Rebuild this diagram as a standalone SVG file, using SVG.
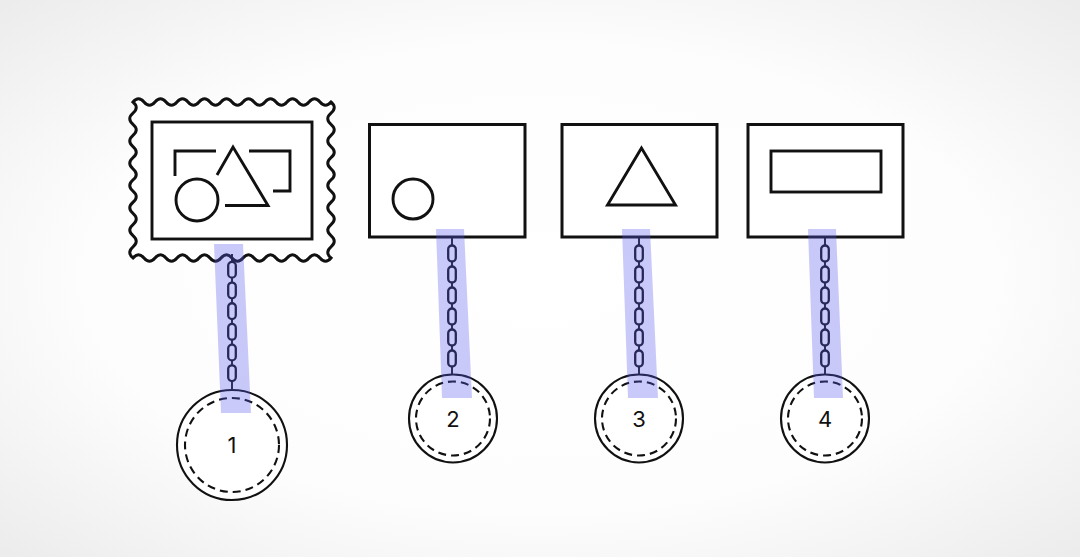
<svg xmlns="http://www.w3.org/2000/svg" width="1080" height="557" viewBox="0 0 1080 557">
<defs>
<radialGradient id="bg" cx="50%" cy="50%" r="70%">
<stop offset="0" stop-color="#ffffff"/>
<stop offset="0.6" stop-color="#fdfdfd"/>
<stop offset="1" stop-color="#ececec"/>
</radialGradient>
<g id="chain">
<line x1="0" y1="0" x2="0" y2="137" class="ln"/>
<rect x="-3.8" y="8" width="7.6" height="16" rx="3.8" class="lk"/>
<rect x="-3.8" y="29" width="7.6" height="16" rx="3.8" class="lk"/>
<rect x="-3.8" y="50" width="7.6" height="16" rx="3.8" class="lk"/>
<rect x="-3.8" y="71" width="7.6" height="16" rx="3.8" class="lk"/>
<rect x="-3.8" y="92" width="7.6" height="16" rx="3.8" class="lk"/>
<rect x="-3.8" y="113" width="7.6" height="16" rx="3.8" class="lk"/>
</g>
</defs>
<style>
.sh{fill:none;stroke:#111;stroke-width:2.9;stroke-linejoin:miter}
.box{fill:#fff;stroke:#111;stroke-width:3}
.ln{stroke:#111;stroke-width:1.9}
.lk{fill:#fff;stroke:#111;stroke-width:2.3}
.hl{fill:#5a5af0;fill-opacity:0.32}
.coin{fill:#fff;stroke:#111;stroke-width:2.1}
.dash{fill:none;stroke:#111;stroke-width:2.1;stroke-dasharray:8 5}
.num{font-family:Inter,"Liberation Sans",sans-serif;font-size:22px;font-weight:400;fill:#111;text-anchor:middle}
</style>
<rect width="1080" height="557" fill="url(#bg)"/>

<g id="node1">
<path class="box" d="M133 102 q5.5 -6.5 11 0 t11 0 t11 0 t11 0 t11 0 t11 0 t11 0 t11 0 t11 0 t11 0 t11 0 t11 0 t11 0 t11 0 t11 0 t11 0 t11 0 t11 0 q6.5 5.57 0 11.14 t0 11.14 t0 11.14 t0 11.14 t0 11.14 t0 11.14 t0 11.14 t0 11.14 t0 11.14 t0 11.14 t0 11.14 t0 11.14 t0 11.14 t0 11.14 q-5.5 6.5 -11 0 t-11 0 t-11 0 t-11 0 t-11 0 t-11 0 t-11 0 t-11 0 t-11 0 t-11 0 t-11 0 t-11 0 t-11 0 t-11 0 t-11 0 t-11 0 t-11 0 t-11 0 q-6.5 -5.57 0 -11.14 t0 -11.14 t0 -11.14 t0 -11.14 t0 -11.14 t0 -11.14 t0 -11.14 t0 -11.14 t0 -11.14 t0 -11.14 t0 -11.14 t0 -11.14 t0 -11.14 t0 -11.14 Z"/>
<rect class="sh" x="152" y="122" width="160" height="117" stroke-width="3"/>
<polyline class="sh" points="175,176 175,151 216,151"/>
<polyline class="sh" points="217,175 233,147 268,205.5 225,205.5"/>
<polyline class="sh" points="249,151 290,151 290,191 273,191"/>
<circle class="sh" cx="197" cy="200" r="21"/>
</g>

<g id="node2">
<rect class="box" x="369.5" y="124.5" width="155.5" height="112.5"/>
<circle class="sh" cx="413" cy="199" r="20"/>
</g>

<g id="node3">
<rect class="box" x="562" y="124.5" width="155" height="112.5"/>
<polygon class="sh" points="641.5,148 607.5,205 675.5,205"/>
</g>

<g id="node4">
<rect class="box" x="748" y="124.5" width="155" height="112.5"/>
<rect class="sh" x="771" y="151" width="110" height="41"/>
</g>

<g id="coin1">
<circle class="coin" cx="232" cy="445" r="55"/>
<circle class="dash" cx="232" cy="445" r="47"/>
<text class="num" x="232" y="453">1</text>
</g>
<g id="coin2">
<circle class="coin" cx="453" cy="418.5" r="44"/>
<circle class="dash" cx="453" cy="418.5" r="37"/>
<text class="num" x="453" y="426.5">2</text>
</g>
<g id="coin3">
<circle class="coin" cx="639" cy="418.5" r="44"/>
<circle class="dash" cx="639" cy="418.5" r="37"/>
<text class="num" x="639" y="426.5">3</text>
</g>
<g id="coin4">
<circle class="coin" cx="825" cy="418.5" r="44"/>
<circle class="dash" cx="825" cy="418.5" r="37"/>
<text class="num" x="825" y="426.5">4</text>
</g>

<g id="connectors">
<use href="#chain" transform="translate(232,254) scale(1,0.985)"/>
<use href="#chain" transform="translate(452,237.5)"/>
<use href="#chain" transform="translate(639,237.5)"/>
<use href="#chain" transform="translate(825,237.5)"/>
<polygon class="hl" points="214,244 243,244 251,413 221,413"/>
<polygon class="hl" points="436,229 464,229 472,398 442,398"/>
<polygon class="hl" points="622,229 650,229 658,398 628,398"/>
<polygon class="hl" points="808,229 836,229 843,398 814,398"/>
</g>
</svg>
